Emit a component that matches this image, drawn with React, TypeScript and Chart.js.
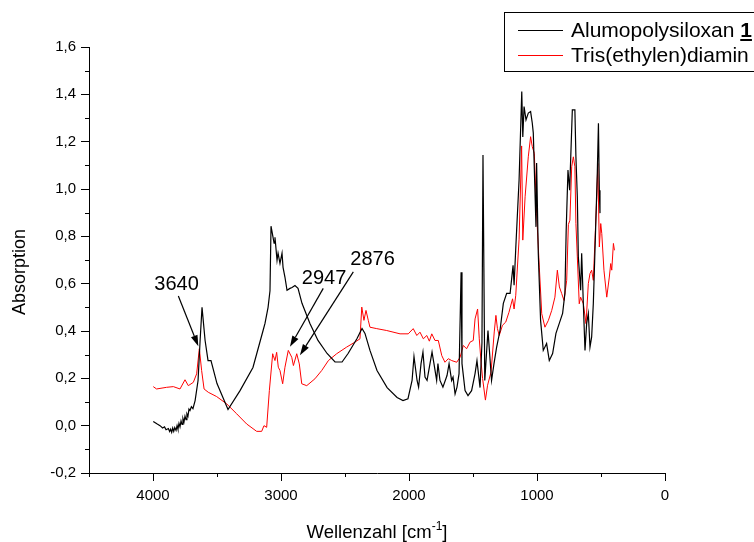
import React, { useEffect, useRef } from 'react';
import { Chart, registerables } from 'chart.js';

Chart.register(...registerables);

// ---- data (wavenumber in cm^-1, absorbance) ----
const blackWn = [3998,3970,3945,3925,3910,3898,3880,3870,3862,3854,3846,3838,3830,3820,3812,3805,3797,3789,3781,3773,3766,3758,3750,3742,3735,3727,3719,3711,3700,3688,3671,3648,3632,3617,3593,3570,3547,3500,3414,3320,3219,3140,3125,3101,3086,3078,3054,3047,3031,3023,3008,2992,2984,2969,2953,2930,2914,2891,2867,2836,2774,2711,2640,2578,2523,2476,2406,2367,2344,2305,2250,2171,2093,2047,2008,1976,1961,1937,1925,1906,1891,1875,1859,1836,1820,1805,1784,1774,1758,1735,1703,1687,1667,1656,1640,1625,1609,1593,1586,1562,1539,1511,1484,1469,1445,1430,1422,1408,1383,1355,1336,1316,1289,1263,1237,1210,1187,1179,1165,1140,1119,1111,1101,1086,1068,1050,1037,1029,1008,1003,990,972,951,925,904,878,852,826,800,782,772,758,745,724,704,696,685,677,659,651,638,625,612,599,586,573,560,547,529,520,513,508];
const blackAbs = [0.018,0.008,0.000,-0.010,-0.005,-0.017,-0.012,-0.025,-0.015,-0.028,-0.010,-0.024,-0.008,-0.020,0.000,-0.015,0.010,-0.005,0.020,0.005,0.030,0.015,0.040,0.025,0.050,0.040,0.070,0.064,0.080,0.072,0.106,0.191,0.360,0.500,0.360,0.275,0.275,0.178,0.068,0.148,0.246,0.402,0.432,0.500,0.570,0.843,0.771,0.796,0.699,0.729,0.686,0.729,0.669,0.627,0.572,0.580,0.584,0.592,0.580,0.517,0.432,0.360,0.305,0.269,0.269,0.305,0.368,0.411,0.390,0.318,0.233,0.161,0.119,0.106,0.114,0.191,0.292,0.191,0.163,0.262,0.311,0.205,0.191,0.262,0.311,0.262,0.191,0.262,0.191,0.163,0.212,0.262,0.191,0.205,0.134,0.163,0.220,0.648,0.262,0.148,0.127,0.148,0.220,0.275,0.161,0.350,1.144,0.191,0.402,0.191,0.262,0.330,0.402,0.517,0.559,0.559,0.678,0.593,0.760,1.038,1.412,1.220,1.348,1.292,1.321,1.327,1.279,1.237,0.840,1.110,0.727,0.445,0.318,0.347,0.275,0.305,0.390,0.432,0.474,0.559,0.826,1.080,0.995,1.334,1.334,1.136,0.966,0.712,0.572,0.728,0.516,0.318,0.432,0.474,0.332,0.375,0.516,0.741,1.066,1.278,0.995,0.898];

const redWn = [3998,3972,3894,3841,3789,3750,3724,3685,3659,3638,3620,3601,3568,3503,3424,3346,3268,3190,3151,3133,3112,3091,3065,3060,3047,3034,3021,3008,2987,2969,2943,2916,2903,2877,2857,2838,2799,2735,2682,2630,2565,2487,2422,2383,2369,2352,2336,2318,2305,2252,2174,2070,2006,1967,1939,1914,1888,1861,1841,1822,1797,1771,1744,1719,1693,1666,1627,1601,1576,1550,1523,1498,1484,1464,1451,1437,1425,1403,1386,1359,1334,1321,1309,1295,1270,1244,1219,1191,1179,1166,1140,1120,1111,1093,1068,1050,1037,1021,1003,982,963,938,911,885,860,841,825,807,789,768,755,743,729,716,704,696,685,670,659,638,617,599,586,573,560,547,533,525,513,502,494,477,455,435,424,416,403,395];
const redAbs = [0.165,0.155,0.162,0.165,0.155,0.194,0.169,0.183,0.219,0.325,0.233,0.155,0.141,0.123,0.092,0.050,0.007,-0.024,-0.024,0.000,-0.007,0.148,0.304,0.296,0.275,0.310,0.247,0.233,0.177,0.247,0.318,0.289,0.254,0.304,0.261,0.177,0.169,0.198,0.233,0.275,0.304,0.332,0.353,0.367,0.501,0.445,0.487,0.445,0.416,0.410,0.402,0.388,0.388,0.410,0.381,0.395,0.367,0.381,0.357,0.388,0.360,0.360,0.296,0.268,0.283,0.275,0.268,0.289,0.339,0.325,0.353,0.360,0.451,0.493,0.367,0.269,0.199,0.108,0.171,0.227,0.396,0.466,0.410,0.381,0.424,0.438,0.479,0.536,0.493,0.551,0.788,1.182,0.784,0.967,1.136,1.221,1.179,1.151,0.897,0.670,0.473,0.416,0.445,0.487,0.543,0.657,0.586,0.558,0.529,0.614,0.850,0.868,1.094,1.136,1.094,0.854,0.713,0.515,0.543,0.515,0.431,0.600,0.643,0.657,0.614,0.784,0.967,1.108,0.755,0.854,0.812,0.657,0.543,0.628,0.685,0.657,0.770,0.741];

const xMajorTicks = [0, 1000, 2000, 3000, 4000];
const xMinorTicks = [500, 1500, 2500, 3500, 4500];
const yMajorTicks = [-0.2, 0, 0.2, 0.4, 0.6, 0.8, 1.0, 1.2, 1.4, 1.6];
const yMinorTicks = [-0.1, 0.1, 0.3, 0.5, 0.7, 0.9, 1.1, 1.3, 1.5];

const seriesNames = ['Alumopolysiloxan', 'Tris(ethylen)diamin'];
const seriesBold = ['1', ''];
const seriesColors = ['#000000', '#ff0000'];

const peakLabels = ['3640', '2947', '2876'];
const peakTextX = [3816, 2664, 2285];
const peakTextY = [0.598, 0.624, 0.704];
const arrowFromX = [3802, 2670, 2435];
const arrowFromY = [0.548, 0.580, 0.650];
const arrowToX = [3646, 2930, 2852];
const arrowToY = [0.336, 0.333, 0.298];

const xTitle = 'Wellenzahl [cm';
const xTitleSup = '-1';
const yTitle = 'Absorption';

const FONT = '"Liberation Sans", Arial, Helvetica, sans-serif';

function zip(xs: number[], ys: number[]) {
  const n = Math.min(xs.length, ys.length);
  const out: { x: number; y: number }[] = [];
  for (let i = 0; i < n; i++) out.push({ x: xs[i], y: ys[i] });
  return out;
}

export default function App() {
  const ref = useRef<HTMLCanvasElement | null>(null);

  useEffect(() => {
    document.body.style.margin = '0';
    const canvas = ref.current;
    if (!canvas) return;

    const decor = {
      id: 'decor',
      afterDraw(chart: any) {
        const ctx: CanvasRenderingContext2D = chart.ctx;
        const xs = chart.scales.x;
        const ys = chart.scales.y;
        const area = chart.chartArea;
        ctx.save();

        // minor ticks
        ctx.strokeStyle = '#000';
        ctx.lineWidth = 1;
        ctx.beginPath();
        xMinorTicks.forEach((v) => {
          const p = Math.round(xs.getPixelForValue(v)) + 0.5;
          ctx.moveTo(p, area.bottom);
          ctx.lineTo(p, area.bottom + 4);
        });
        yMinorTicks.forEach((v) => {
          const p = Math.round(ys.getPixelForValue(v)) + 0.5;
          ctx.moveTo(area.left - 4, p);
          ctx.lineTo(area.left, p);
        });
        ctx.stroke();

        // peak annotations
        ctx.fillStyle = '#000';
        ctx.font = `20px ${FONT}`;
        ctx.textAlign = 'center';
        ctx.textBaseline = 'middle';
        peakLabels.forEach((t, i) => {
          ctx.fillText(t, xs.getPixelForValue(peakTextX[i]), ys.getPixelForValue(peakTextY[i]));
          const x1 = xs.getPixelForValue(arrowFromX[i]);
          const y1 = ys.getPixelForValue(arrowFromY[i]);
          const x2 = xs.getPixelForValue(arrowToX[i]);
          const y2 = ys.getPixelForValue(arrowToY[i]);
          const a = Math.atan2(y2 - y1, x2 - x1);
          const hl = 11;
          const hw = 3.5;
          const bx = x2 - hl * Math.cos(a);
          const by = y2 - hl * Math.sin(a);
          ctx.strokeStyle = '#000';
          ctx.lineWidth = 1.2;
          ctx.beginPath();
          ctx.moveTo(x1, y1);
          ctx.lineTo(bx, by);
          ctx.stroke();
          ctx.beginPath();
          ctx.moveTo(x2, y2);
          ctx.lineTo(bx + hw * Math.sin(a), by - hw * Math.cos(a));
          ctx.lineTo(bx - hw * Math.sin(a), by + hw * Math.cos(a));
          ctx.closePath();
          ctx.fill();
        });

        // x title with superscript
        ctx.textAlign = 'left';
        ctx.textBaseline = 'alphabetic';
        ctx.font = `18.5px ${FONT}`;
        const w1 = ctx.measureText(xTitle).width;
        ctx.font = `12px ${FONT}`;
        const w2 = ctx.measureText(xTitleSup).width;
        ctx.font = `18.5px ${FONT}`;
        const w3 = ctx.measureText(']').width;
        const cx = (area.left + area.right) / 2;
        let sx = cx - (w1 + w2 + w3) / 2;
        const baseY = 538;
        ctx.fillText(xTitle, sx, baseY);
        sx += w1;
        ctx.font = `12px ${FONT}`;
        ctx.fillText(xTitleSup, sx, baseY - 8);
        sx += w2;
        ctx.font = `18.5px ${FONT}`;
        ctx.fillText(']', sx, baseY);

        // y title
        ctx.save();
        ctx.translate(20, 272);
        ctx.rotate(-Math.PI / 2);
        ctx.textAlign = 'center';
        ctx.textBaseline = 'middle';
        ctx.font = `18px ${FONT}`;
        ctx.fillText(yTitle, 0, 0);
        ctx.restore();

        // legend box
        ctx.strokeStyle = '#000';
        ctx.lineWidth = 1;
        ctx.strokeRect(504.5, 12.5, 300, 59);
        const rowY = [30, 55];
        seriesNames.forEach((name, i) => {
          const y = rowY[i] + 0.5;
          ctx.strokeStyle = seriesColors[i];
          ctx.lineWidth = 1;
          ctx.beginPath();
          ctx.moveTo(518, y);
          ctx.lineTo(563, y);
          ctx.stroke();
          ctx.fillStyle = '#000';
          ctx.font = `21px ${FONT}`;
          ctx.textAlign = 'left';
          ctx.textBaseline = 'alphabetic';
          const bl = rowY[i] + 7;
          ctx.fillText(name, 571, bl);
          if (seriesBold[i]) {
            const nw = ctx.measureText(name + ' ').width;
            ctx.font = `bold 21px ${FONT}`;
            const bw = ctx.measureText(seriesBold[i]).width;
            ctx.fillText(seriesBold[i], 571 + nw, bl);
            ctx.fillRect(571 + nw, bl + 2, bw, 2);
          }
        });

        ctx.restore();
      },
    };

    const chart = new Chart(canvas, {
      type: 'line',
      data: {
        datasets: [
          {
            label: seriesNames[0],
            data: zip(blackWn, blackAbs),
            borderColor: seriesColors[0],
            borderWidth: 1.2,
            pointRadius: 0,
            tension: 0,
            fill: false,
          },
          {
            label: seriesNames[1],
            data: zip(redWn, redAbs),
            borderColor: seriesColors[1],
            borderWidth: 1,
            pointRadius: 0,
            tension: 0,
            fill: false,
          },
        ],
      },
      options: {
        animation: false,
        responsive: false,
        devicePixelRatio: 1,
        parsing: false as any,
        layout: { padding: { top: 47, right: 89, left: 0, bottom: 0 } },
        plugins: {
          legend: { display: false },
          tooltip: { enabled: false },
        },
        scales: {
          x: {
            type: 'linear',
            reverse: true,
            min: 0,
            max: 4500,
            afterBuildTicks: (s: any) => {
              s.ticks = xMajorTicks.map((v) => ({ value: v }));
            },
            afterFit: (s: any) => {
              s.height = 69;
            },
            ticks: {
              color: '#000',
              font: { family: FONT, size: 15 },
              padding: 6,
              maxRotation: 0,
              autoSkip: false,
              callback: (v: any) => String(v),
            },
            grid: {
              display: true,
              drawOnChartArea: false,
              drawTicks: true,
              tickLength: 8,
              color: '#000',
              lineWidth: 1,
            },
            border: { display: true, color: '#000', width: 1 },
          },
          y: {
            type: 'linear',
            min: -0.2,
            max: 1.6,
            afterBuildTicks: (s: any) => {
              s.ticks = yMajorTicks.map((v) => ({ value: v }));
            },
            afterFit: (s: any) => {
              s.width = 89;
            },
            ticks: {
              color: '#000',
              font: { family: FONT, size: 15 },
              padding: 5,
              autoSkip: false,
              callback: (v: any) => Number(v).toFixed(1).replace('.', ','),
            },
            grid: {
              display: true,
              drawOnChartArea: false,
              drawTicks: true,
              tickLength: 8,
              color: '#000',
              lineWidth: 1,
            },
            border: { display: true, color: '#000', width: 1 },
          },
        },
      },
      plugins: [decor],
    } as any);

    return () => chart.destroy();
  }, []);

  return (
    <canvas
      ref={ref}
      width={754}
      height={542}
      style={{ display: 'block', width: '754px', height: '542px' }}
    />
  );
}
